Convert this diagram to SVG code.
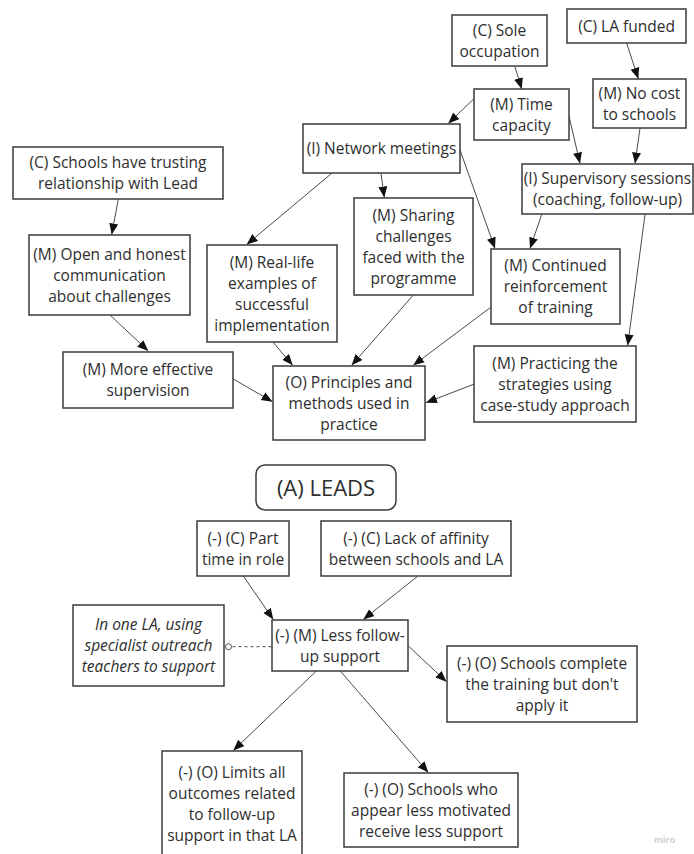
<svg xmlns="http://www.w3.org/2000/svg" width="694" height="854" viewBox="0 0 694 854">
  <defs>
    <style>
      .box { fill: #ffffff; stroke: #3a3a3a; stroke-width: 1.5; }
      .t { font-family: "Open Sans", "Liberation Sans", sans-serif; font-size: 15.5px; fill: #2e2e2e; text-anchor: middle; }
      .it { font-style: italic; }
      .title { font-size: 22px; }
      .edge { stroke: #4a4a4a; stroke-width: 1; fill: none; marker-end: url(#arrow); }
      .dash { stroke: #4a4a4a; stroke-width: 1; fill: none; stroke-dasharray: 3 3; }
      .wm { font-family: "Open Sans", "Liberation Sans", sans-serif; font-size: 9px; fill: #d0d0d0; font-weight: bold; }
    </style>
    <marker id="arrow" markerUnits="userSpaceOnUse" markerWidth="12" markerHeight="10" refX="11" refY="4.5" orient="auto">
      <path d="M0,0 L11,4.5 L0,9 z" fill="#111111"/>
    </marker>
  </defs>

  <rect width="694" height="854" fill="#ffffff"/>

  <!-- connectors -->
  <g id="connectors">
    <line class="edge" x1="515" y1="67" x2="521.7" y2="89"/>
    <line class="edge" x1="626.7" y1="43.3" x2="638.3" y2="78.7"/>
    <line class="edge" x1="474.3" y1="98.3" x2="448.3" y2="123.5"/>
    <line class="edge" x1="568.7" y1="115" x2="580" y2="163.5"/>
    <line class="edge" x1="640" y1="128.3" x2="635" y2="163.5"/>
    <line class="edge" x1="381" y1="173.3" x2="384.3" y2="197.5"/>
    <line class="edge" x1="331.7" y1="173.3" x2="246.7" y2="244.5"/>
    <line class="edge" x1="460" y1="150" x2="495" y2="248.5"/>
    <line class="edge" x1="541.7" y1="214.5" x2="530" y2="248.5"/>
    <line class="edge" x1="645" y1="214.5" x2="627.7" y2="345.5"/>
    <line class="edge" x1="118.3" y1="199.3" x2="111.7" y2="234.5"/>
    <line class="edge" x1="110" y1="315" x2="148.3" y2="351"/>
    <line class="edge" x1="233.3" y1="379" x2="272.5" y2="401.7"/>
    <line class="edge" x1="272.7" y1="341.7" x2="292.7" y2="365.3"/>
    <line class="edge" x1="413.3" y1="295" x2="351.7" y2="365.3"/>
    <line class="edge" x1="490.7" y1="307.3" x2="413.3" y2="365.3"/>
    <line class="edge" x1="474.3" y1="384" x2="426" y2="402.7"/>
    <line class="edge" x1="243.3" y1="576" x2="273.3" y2="619.5"/>
    <line class="edge" x1="417.3" y1="576.5" x2="363.3" y2="619.5"/>
    <line class="edge" x1="408.3" y1="646" x2="446.5" y2="681.7"/>
    <line class="edge" x1="316.7" y1="670.7" x2="233.3" y2="750.5"/>
    <line class="edge" x1="340" y1="670.7" x2="428.3" y2="772.5"/>
    <line class="dash" x1="271.5" y1="646.7" x2="231.5" y2="646.7"/>
    <circle cx="228.5" cy="646.7" r="3" fill="#ffffff" stroke="#4a4a4a" stroke-width="1"/>
  </g>

  <!-- upper map -->
  <g id="sole-occupation">
    <rect class="box" x="452" y="15" width="95" height="51"/>
    <text class="t" x="499.5" y="35.5">(C) Sole</text>
    <text class="t" x="499.5" y="56.5">occupation</text>
  </g>
  <g id="la-funded">
    <rect class="box" x="567" y="9" width="119" height="34"/>
    <text class="t" x="626.5" y="31.5">(C) LA funded</text>
  </g>
  <g id="time-capacity">
    <rect class="box" x="474" y="89" width="95" height="51"/>
    <text class="t" x="521.5" y="109.5">(M) Time</text>
    <text class="t" x="521.5" y="130.5">capacity</text>
  </g>
  <g id="no-cost">
    <rect class="box" x="593" y="79" width="93" height="49"/>
    <text class="t" x="639.5" y="98.5">(M) No cost</text>
    <text class="t" x="639.5" y="119.5">to schools</text>
  </g>
  <g id="network-meetings">
    <rect class="box" x="303" y="124" width="157" height="49"/>
    <text class="t" x="381.5" y="154">(I) Network meetings</text>
  </g>
  <g id="supervisory-sessions">
    <rect class="box" x="522" y="164" width="171" height="50"/>
    <text class="t" x="607.5" y="184">(I) Supervisory sessions</text>
    <text class="t" x="607.5" y="205">(coaching, follow-up)</text>
  </g>
  <g id="trusting-relationship">
    <rect class="box" x="13" y="147" width="210" height="52"/>
    <text class="t" x="118" y="168">(C) Schools have trusting</text>
    <text class="t" x="118" y="189">relationship with Lead</text>
  </g>
  <g id="open-communication">
    <rect class="box" x="29" y="235" width="161" height="80"/>
    <text class="t" x="109.5" y="259.5">(M) Open and honest</text>
    <text class="t" x="109.5" y="280.5">communication</text>
    <text class="t" x="109.5" y="301.5">about challenges</text>
  </g>
  <g id="sharing-challenges">
    <rect class="box" x="354" y="198" width="119" height="97"/>
    <text class="t" x="413.5" y="220.5">(M) Sharing</text>
    <text class="t" x="413.5" y="241.5">challenges</text>
    <text class="t" x="413.5" y="262.5">faced with the</text>
    <text class="t" x="413.5" y="283.5">programme</text>
  </g>
  <g id="real-life-examples">
    <rect class="box" x="207" y="245" width="130" height="97"/>
    <text class="t" x="272" y="267.5">(M) Real-life</text>
    <text class="t" x="272" y="288.5">examples of</text>
    <text class="t" x="272" y="309.5">successful</text>
    <text class="t" x="272" y="330.5">implementation</text>
  </g>
  <g id="continued-reinforcement">
    <rect class="box" x="491" y="249" width="129" height="75"/>
    <text class="t" x="555.5" y="271">(M) Continued</text>
    <text class="t" x="555.5" y="292">reinforcement</text>
    <text class="t" x="555.5" y="313">of training</text>
  </g>
  <g id="effective-supervision">
    <rect class="box" x="63" y="352" width="170" height="56"/>
    <text class="t" x="148" y="375">(M) More effective</text>
    <text class="t" x="148" y="396">supervision</text>
  </g>
  <g id="principles-methods">
    <rect class="box" x="273" y="366" width="152" height="74"/>
    <text class="t" x="349" y="387.5">(O) Principles and</text>
    <text class="t" x="349" y="408.5">methods used in</text>
    <text class="t" x="349" y="429.5">practice</text>
  </g>
  <g id="case-study-practice">
    <rect class="box" x="474" y="346" width="162" height="76"/>
    <text class="t" x="555" y="368.5">(M) Practicing the</text>
    <text class="t" x="555" y="389.5">strategies using</text>
    <text class="t" x="555" y="410.5">case-study approach</text>
  </g>

  <!-- lower map -->
  <g id="leads-title">
    <rect class="box" x="256" y="465" width="140" height="45" rx="9" ry="9"/>
    <text class="t title" x="326" y="495.5">(A) LEADS</text>
  </g>
  <g id="part-time">
    <rect class="box" x="197" y="521" width="92" height="55"/>
    <text class="t" x="243" y="543.5">(-) (C) Part</text>
    <text class="t" x="243" y="564.5">time in role</text>
  </g>
  <g id="lack-of-affinity">
    <rect class="box" x="321" y="521" width="190" height="55"/>
    <text class="t" x="416" y="543.5">(-) (C) Lack of affinity</text>
    <text class="t" x="416" y="564.5">between schools and LA</text>
  </g>
  <g id="outreach-teachers">
    <rect class="box" x="73" y="605" width="151" height="81"/>
    <text class="t it" x="148.5" y="630">In one LA, using</text>
    <text class="t it" x="148.5" y="651">specialist outreach</text>
    <text class="t it" x="148.5" y="672">teachers to support</text>
  </g>
  <g id="less-follow-up">
    <rect class="box" x="272" y="620" width="136" height="51"/>
    <text class="t" x="340" y="640.5">(-) (M) Less follow-</text>
    <text class="t" x="340" y="661.5">up support</text>
  </g>
  <g id="training-not-applied">
    <rect class="box" x="447" y="646" width="190" height="76"/>
    <text class="t" x="542" y="668.5">(-) (O) Schools complete</text>
    <text class="t" x="542" y="689.5">the training but don't</text>
    <text class="t" x="542" y="710.5">apply it</text>
  </g>
  <g id="limited-outcomes">
    <rect class="box" x="162" y="751" width="140" height="115"/>
    <text class="t" x="232" y="778">(-) (O) Limits all</text>
    <text class="t" x="232" y="799">outcomes related</text>
    <text class="t" x="232" y="820">to follow-up</text>
    <text class="t" x="232" y="841">support in that LA</text>
  </g>
  <g id="less-motivated-schools">
    <rect class="box" x="344" y="773" width="174" height="74"/>
    <text class="t" x="431" y="794.5">(-) (O) Schools who</text>
    <text class="t" x="431" y="815.5">appear less motivated</text>
    <text class="t" x="431" y="836.5">receive less support</text>
  </g>

  <text class="wm" x="654" y="843">miro</text>
</svg>
